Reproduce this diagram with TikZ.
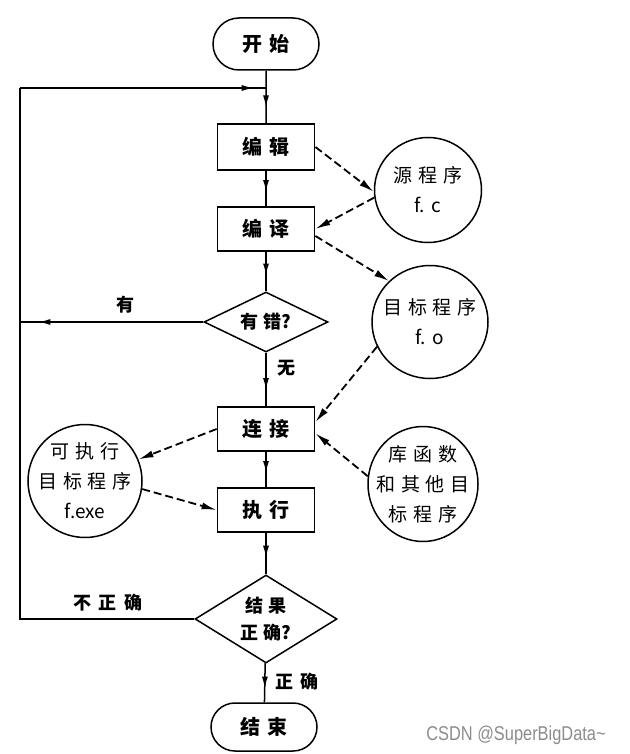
\documentclass[tikz,border=0pt]{standalone}
\usepackage{fontspec}
\usepackage{graphicx}
\usetikzlibrary{shapes.geometric,shapes.misc,arrows.meta,decorations.markings}
\newfontfamily\cjk{Noto Sans CJK SC}
\newfontfamily\wmfont{Liberation Sans}
\newcommand\gp{\hspace{0.3em}}
\newcommand\gq{\hspace{0.4em}}
\tikzset{
  every node/.style={font=\cjk},
  proc/.style={draw, line width=1.8pt, minimum width=97pt, minimum height=46pt, inner sep=0pt,
    font=\cjk\bfseries\fontsize{20}{24}\selectfont},
  term/.style={draw, line width=1.5pt, rounded rectangle, minimum width=106pt, minimum height=52pt,
    inner sep=0pt, font=\cjk\bfseries\fontsize{20}{24}\selectfont},
  decis/.style={draw, diamond, line width=1.5pt, inner sep=0pt},
  store/.style={draw, ellipse, line width=1.5pt, inner sep=0pt},
  ctext/.style={align=center, inner sep=0pt, font=\cjk\fontsize{19}{30}\selectfont},
  dtext/.style={align=center, inner sep=0pt, font=\cjk\bfseries\fontsize{18}{27}\selectfont},
  lbl/.style={inner sep=0pt, font=\cjk\bfseries\fontsize{18}{22}\selectfont},
  flow/.style={line width=1.5pt},
  marr/.style={postaction={decorate}, decoration={markings,
    mark=at position #1 with {\arrow{Latex[length=12pt,width=6pt]}}}},
  data/.style={line width=1.8pt, dash pattern=on 8pt off 4pt, -{Latex[length=15pt,width=7pt]}},
}
\begin{document}
\begin{tikzpicture}[x=1pt,y=-1pt]
\useasboundingbox (0,0) rectangle (629,754);
% flow-chart nodes
\node[term] (start) at (266,44) {开\gq 始};
\node[proc] (edit) at (266,147) {编\gq 辑};
\node[proc, minimum height=44pt] (comp) at (266,229) {编\gq 译};
\node[decis, minimum width=124pt, minimum height=60pt] (err) at (266,322) {};
\node[dtext] (errt) at (err) {有\gp 错?};
\node[proc, minimum height=44pt] (link) at (266,429) {连\gq 接};
\node[proc, minimum height=44pt] (run) at (266,510) {执\gq 行};
\node[decis, minimum width=142pt, minimum height=88pt] (ok) at (266,619) {};
\node[dtext] (okt) at (ok) {结\gp 果\\正\gp 确?};
\node[term, minimum height=48pt] (end) at (264,727) {结\gq 束};
% data stores
\node[store, minimum width=107pt, minimum height=105pt] (src) at (428,190) {};
\node[ctext] (srct) at (src) {源\gp 程\gp 序\\f.\,\,c};
\node[store, minimum width=116pt, minimum height=113pt] (tgt) at (430,322) {};
\node[ctext] (tgtt) at (tgt) {目\gp 标\gp 程\gp 序\\f.\,\,o};
\node[store, minimum width=114pt, minimum height=113pt] (exe) at (85,481) {};
\node[ctext] (exet) at (exe) {可\gp 执\gp 行\\目\gp 标\gp 程\gp 序\\f.exe};
\node[store, minimum width=110pt, minimum height=115pt] (lib) at (423,484) {};
\node[ctext] (libt) at (lib) {库\gp 函\gp 数\\和\gp 其\gp 他\gp 目\\标\gp 程\gp 序};
% labels
\node[lbl] (lyes) at (125,305) {有};
\node[lbl] (lno) at (286,368) {无};
\node[lbl] (lwrong) at (108,603) {不\gq 正\gq 确};
\node[lbl] (lright) at (297,682) {正\gq 确};
% coordinates for loops
\coordinate (junc) at (266,88);
\coordinate (lt) at (20,88);
\coordinate (lerr) at (20,322);
\coordinate (lb) at (20,619);
% solid flow
\draw[flow, marr=0.7] (start) -- (edit);
\draw[flow, marr=0.6] (edit) -- (comp);
\draw[flow, marr=0.6] (comp) -- (err);
\draw[flow, marr=0.7] (err) -- (link);
\draw[flow, marr=0.6] (link) -- (run);
\draw[flow, marr=0.6] (run) -- (ok);
\draw[flow, marr=0.65] (ok) -- (end);
\draw[flow, marr=0.9] (err.west) -- (lerr);
\draw[flow] (ok.west) -- (lb) -- (lt);
\draw[flow, marr=0.95] (lt) -- (junc);
% dashed data flow
\draw[data] (edit.east) -- (src.182);
\draw[data] (src.188) -- (comp.east);
\draw[data] (comp.-8) -- (tgt.135);
\draw[data] (tgt.205) -- (link.8);
\draw[data] (lib.172) -- (link.-5);
\draw[data] (link.west) -- (exe.22);
\draw[data] (exe.-8) -- (run.west);
% watermark
\node[font=\wmfont\fontsize{20}{20}\selectfont, text=black!45, inner sep=0pt] (wm) at (516,735)
  {\scalebox{0.82}[1]{CSDN @SuperBigData\textasciitilde}};
\end{tikzpicture}
\end{document}
